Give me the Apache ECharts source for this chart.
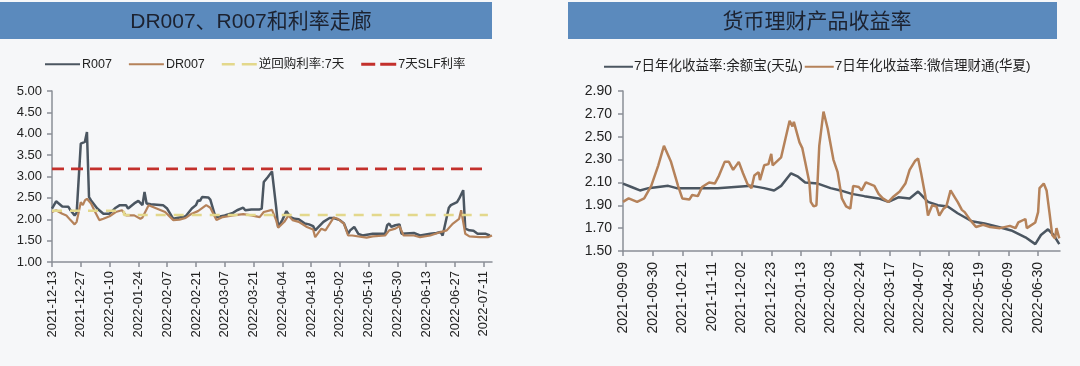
<!DOCTYPE html>
<html>
<head>
<meta charset="utf-8">
<script src="https://cdn.jsdelivr.net/npm/echarts@6/dist/echarts.min.js"></script>
<style>
html,body{margin:0;padding:0;background:#f6f7f9;}
#c{width:1080px;height:366px;}
</style>
</head>
<body>
<div id="c"></div>
<script>
// ---------- Left chart data ----------
const leftTitle = 'DR007、R007和利率走廊';
const leftStart = '2021-12-13';
const leftEnd = '2022-07-15';
const leftTicks = ['2021-12-13','2021-12-27','2022-01-10','2022-01-24','2022-02-07','2022-02-21','2022-03-07','2022-03-21','2022-04-04','2022-04-18','2022-05-02','2022-05-16','2022-05-30','2022-06-13','2022-06-27','2022-07-11'];

const r007Dates = ['2021-12-13','2021-12-15','2021-12-16','2021-12-18','2021-12-21','2021-12-22','2021-12-24','2021-12-25','2021-12-27','2021-12-29','2021-12-30','2021-12-31','2022-01-01','2022-01-04','2022-01-07','2022-01-10','2022-01-13','2022-01-15','2022-01-18','2022-01-19','2022-01-22','2022-01-24','2022-01-26','2022-01-27','2022-01-28','2022-01-30','2022-02-05','2022-02-07','2022-02-10','2022-02-13','2022-02-16','2022-02-19','2022-02-21','2022-02-22','2022-02-23','2022-02-24','2022-02-27','2022-02-28','2022-03-02','2022-03-03','2022-03-07','2022-03-11','2022-03-13','2022-03-16','2022-03-17','2022-03-20','2022-03-24','2022-03-25','2022-03-26','2022-03-28','2022-03-30','2022-04-01','2022-04-02','2022-04-04','2022-04-06','2022-04-08','2022-04-10','2022-04-12','2022-04-15','2022-04-17','2022-04-19','2022-04-20','2022-04-22','2022-04-24','2022-04-27','2022-04-29','2022-05-02','2022-05-04','2022-05-06','2022-05-07','2022-05-09','2022-05-11','2022-05-13','2022-05-18','2022-05-24','2022-05-25','2022-05-26','2022-05-27','2022-05-29','2022-05-31','2022-06-01','2022-06-07','2022-06-10','2022-06-15','2022-06-18','2022-06-20','2022-06-21','2022-06-24','2022-06-25','2022-06-28','2022-06-29','2022-07-01','2022-07-02','2022-07-04','2022-07-06','2022-07-08','2022-07-12','2022-07-14'];
const r007Values = [2.25,2.42,2.38,2.30,2.29,2.21,2.09,2.15,3.77,3.81,4.04,2.52,2.44,2.25,2.13,2.13,2.27,2.33,2.33,2.25,2.37,2.43,2.33,2.64,2.37,2.35,2.33,2.25,2.01,2.04,2.07,2.25,2.33,2.44,2.43,2.52,2.51,2.46,2.13,2.05,2.09,2.15,2.21,2.27,2.21,2.23,2.23,2.25,2.87,2.99,3.12,2.29,1.82,1.98,2.19,2.05,2.01,2.00,1.90,1.88,1.84,1.74,1.84,1.94,2.03,2.03,1.98,1.90,1.66,1.74,1.82,1.66,1.62,1.66,1.66,1.86,1.90,1.82,1.86,1.88,1.66,1.68,1.62,1.66,1.68,1.70,1.62,2.27,2.33,2.40,2.48,2.68,1.78,1.74,1.73,1.66,1.66,1.62];

const dr007Dates = ['2021-12-13','2021-12-15','2021-12-18','2021-12-20','2021-12-22','2021-12-24','2021-12-25','2021-12-27','2021-12-28','2021-12-29','2021-12-30','2022-01-01','2022-01-03','2022-01-05','2022-01-07','2022-01-10','2022-01-13','2022-01-16','2022-01-18','2022-01-22','2022-01-25','2022-01-26','2022-01-29','2022-02-01','2022-02-06','2022-02-10','2022-02-13','2022-02-16','2022-02-19','2022-02-22','2022-02-26','2022-02-28','2022-03-03','2022-03-06','2022-03-11','2022-03-16','2022-03-20','2022-03-24','2022-03-26','2022-03-30','2022-04-01','2022-04-02','2022-04-05','2022-04-07','2022-04-09','2022-04-12','2022-04-16','2022-04-19','2022-04-20','2022-04-23','2022-04-25','2022-04-29','2022-05-01','2022-05-04','2022-05-06','2022-05-08','2022-05-15','2022-05-18','2022-05-24','2022-05-26','2022-05-29','2022-05-31','2022-06-02','2022-06-07','2022-06-10','2022-06-15','2022-06-20','2022-06-23','2022-06-26','2022-06-29','2022-06-30','2022-07-02','2022-07-04','2022-07-09','2022-07-13','2022-07-15'];
const dr007Values = [2.17,2.21,2.13,2.09,1.98,1.88,1.94,2.40,2.33,2.44,2.48,2.37,2.17,1.98,2.01,2.07,2.17,2.21,2.09,2.09,2.01,2.04,2.33,2.27,2.17,1.98,1.99,2.03,2.13,2.19,2.33,2.27,1.98,2.05,2.09,2.12,2.09,2.05,2.17,2.22,1.98,1.80,1.94,2.09,1.98,1.94,1.82,1.76,1.58,1.78,1.74,2.04,2.01,1.90,1.62,1.62,1.57,1.60,1.62,1.74,1.78,1.84,1.62,1.62,1.58,1.62,1.70,1.74,1.90,2.01,2.21,1.66,1.60,1.58,1.58,1.62];

const repoDates = ['2021-12-13','2022-01-17','2022-07-13'];
const repoValues = [2.20,2.10,2.10];
const slfDates = ['2021-12-13','2022-07-13'];
const slfValues = [3.18,3.18];

// ---------- Right chart data ----------
const rightTitle = '货币理财产品收益率';
const rightStart = '2021-09-09';
const rightEnd = '2022-07-15';
const rightTicks = ['2021-09-09','2021-09-30','2021-10-21','2021-11-11','2021-12-02','2021-12-23','2022-01-13','2022-02-03','2022-02-24','2022-03-17','2022-04-07','2022-04-28','2022-05-19','2022-06-09','2022-06-30'];

const yebDates = ['2021-09-09','2021-09-15','2021-09-21','2021-09-27','2021-10-04','2021-10-11','2021-10-17','2021-10-27','2021-11-06','2021-11-15','2021-11-27','2021-12-09','2021-12-18','2021-12-25','2021-12-30','2022-01-06','2022-01-11','2022-01-16','2022-01-25','2022-02-03','2022-02-10','2022-02-18','2022-02-27','2022-03-09','2022-03-16','2022-03-23','2022-03-31','2022-04-06','2022-04-13','2022-04-20','2022-04-27','2022-05-04','2022-05-14','2022-05-23','2022-06-02','2022-06-11','2022-06-21','2022-06-28','2022-07-02','2022-07-07','2022-07-11','2022-07-15'];
const yebValues = [2.09,2.06,2.03,2.05,2.06,2.07,2.05,2.05,2.05,2.05,2.06,2.07,2.05,2.03,2.07,2.18,2.15,2.10,2.09,2.05,2.03,2.00,1.98,1.96,1.93,1.97,1.96,2.02,1.93,1.90,1.89,1.83,1.76,1.74,1.71,1.68,1.62,1.56,1.64,1.69,1.64,1.56];

const wxDates = ['2021-09-09','2021-09-13','2021-09-19','2021-09-24','2021-09-29','2021-10-04','2021-10-08','2021-10-13','2021-10-18','2021-10-21','2021-10-26','2021-10-28','2021-11-01','2021-11-04','2021-11-09','2021-11-13','2021-11-16','2021-11-20','2021-11-23','2021-11-26','2021-11-30','2021-12-03','2021-12-06','2021-12-09','2021-12-11','2021-12-14','2021-12-15','2021-12-18','2021-12-21','2021-12-23','2021-12-24','2021-12-30','2022-01-02','2022-01-05','2022-01-07','2022-01-08','2022-01-12','2022-01-14','2022-01-16','2022-01-19','2022-01-20','2022-01-22','2022-01-24','2022-01-26','2022-01-29','2022-02-01','2022-02-05','2022-02-08','2022-02-11','2022-02-14','2022-02-17','2022-02-19','2022-02-23','2022-02-25','2022-02-28','2022-03-06','2022-03-09','2022-03-12','2022-03-16','2022-03-19','2022-03-24','2022-03-28','2022-03-31','2022-04-04','2022-04-06','2022-04-08','2022-04-11','2022-04-13','2022-04-16','2022-04-19','2022-04-21','2022-04-24','2022-04-26','2022-04-29','2022-05-02','2022-05-04','2022-05-07','2022-05-09','2022-05-13','2022-05-17','2022-05-22','2022-05-27','2022-06-03','2022-06-10','2022-06-14','2022-06-16','2022-06-21','2022-06-22','2022-06-28','2022-06-30','2022-07-01','2022-07-04','2022-07-06','2022-07-08','2022-07-10','2022-07-12','2022-07-13','2022-07-15'];
const wxValues = [1.93,1.96,1.93,1.96,2.07,2.25,2.42,2.28,2.07,1.96,1.95,1.99,1.98,2.06,2.10,2.09,2.16,2.28,2.28,2.21,2.28,2.18,2.09,2.05,2.16,2.19,2.12,2.25,2.26,2.35,2.25,2.32,2.48,2.64,2.59,2.63,2.45,2.40,2.28,2.10,1.93,1.89,1.90,2.42,2.72,2.57,2.30,2.19,1.96,1.89,1.87,2.07,2.06,2.03,2.10,2.07,2.00,1.96,1.93,1.97,2.02,2.09,2.21,2.29,2.31,2.19,1.99,1.81,1.90,1.89,1.81,1.87,1.89,2.03,1.97,1.93,1.86,1.84,1.77,1.71,1.73,1.71,1.70,1.72,1.70,1.75,1.78,1.70,1.75,1.84,2.05,2.09,2.03,1.84,1.64,1.61,1.70,1.61];

// ---------- helpers ----------
const DAY = 86400000;
function dayOf(s, base) { return Math.round((Date.parse(s) - Date.parse(base)) / DAY); }
function pairs(dates, vals, base) { return dates.map((d, i) => [dayOf(d, base), vals[i]]); }
function tickFormatter(ticks, base) {
  const m = {};
  ticks.forEach(t => { m[dayOf(t, base)] = t; });
  return v => (m[Math.round(v)] !== undefined ? m[Math.round(v)] : '');
}

const DARK = '#4b5661';
const BROWN = '#b5825a';
const YELLOW = '#e3d88c';
const RED = '#c3302c';
const FONT = '"Liberation Sans","Noto Sans CJK SC",sans-serif';

// legend icon shapes (solid line / dashed line)
const ICON_SOLID = 'path://M0,0H35V2H0Z';
const ICON_DASH2 = 'path://M0,0H13V2.6H0Z M20,0H35V2.6H20Z';
const ICON_DASH_RED = 'path://M0,0H14V3H0Z M19,0H35V3H19Z';
const ICON_SOLID_R = 'path://M0,0H29V2H0Z';

const leftTickVals = leftTicks.map(t => dayOf(t, leftStart));
const rightTickVals = rightTicks.map(t => dayOf(t, rightStart));

const chart = echarts.init(document.getElementById('c'), null, {renderer: 'canvas'});
chart.setOption({
  backgroundColor: '#f6f7f9',
  animation: false,
  textStyle: {fontFamily: FONT},
  graphic: [
    {type: 'rect', shape: {x: 0, y: 2, width: 492, height: 37}, style: {fill: '#5b8abd'}, z: 0},
    {type: 'rect', shape: {x: 568, y: 2, width: 489, height: 37}, style: {fill: '#5b8abd'}, z: 0}
  ],
  title: [
    {text: leftTitle, left: 246, top: 7, textAlign: 'center', textStyle: {fontSize: 21, fontWeight: 'normal', color: '#1c2230', fontFamily: FONT}},
    {text: rightTitle, left: 812, top: 7, textAlign: 'center', textStyle: {fontSize: 21, fontWeight: 'normal', color: '#1c2230', fontFamily: FONT}}
  ],
  legend: [
    {
      left: 40, top: 53, itemWidth: 35, itemHeight: 14, itemGap: 17,
      textStyle: {fontSize: 12.5, color: '#222', fontFamily: FONT, padding: [0, 0, 0, -3]},
      data: [
        {name: 'R007', icon: ICON_SOLID},
        {name: 'DR007', icon: ICON_SOLID},
        {name: '逆回购利率:7天', icon: ICON_DASH2},
        {name: '7天SLF利率', icon: ICON_DASH_RED}
      ]
    },
    {
      left: 599, top: 55, itemWidth: 29, itemHeight: 14, itemGap: 2,
      textStyle: {fontSize: 13.5, color: '#222', fontFamily: FONT, padding: [0, 0, 0, -4]},
      data: [
        {name: '7日年化收益率:余额宝(天弘)', icon: ICON_SOLID_R},
        {name: '7日年化收益率:微信理财通(华夏)', icon: ICON_SOLID_R}
      ]
    }
  ],
  grid: [
    {left: 52, top: 91, width: 440, height: 171},
    {left: 623, top: 91, width: 437, height: 160}
  ],
  xAxis: [
    {
      gridIndex: 0, type: 'value', min: 0, max: dayOf(leftEnd, leftStart), interval: 14,
      splitLine: {show: false},
      axisLine: {lineStyle: {color: '#8a8f96', width: 1.5}},
      axisTick: {length: 5, lineStyle: {color: '#8a8f96', width: 1.5}, customValues: leftTickVals},
      axisLabel: {rotate: 90, margin: 9, fontSize: 13, color: '#222', customValues: leftTickVals, formatter: tickFormatter(leftTicks, leftStart)}
    },
    {
      gridIndex: 1, type: 'value', min: 0, max: dayOf(rightEnd, rightStart) + 0.5, interval: 21,
      splitLine: {show: false},
      axisLine: {lineStyle: {color: '#8a8f96', width: 1.5}},
      axisTick: {length: 5, lineStyle: {color: '#8a8f96', width: 1.5}, customValues: rightTickVals},
      axisLabel: {rotate: 90, margin: 11, fontSize: 14, color: '#222', customValues: rightTickVals, formatter: tickFormatter(rightTicks, rightStart)}
    }
  ],
  yAxis: [
    {
      gridIndex: 0, type: 'value', min: 1, max: 5, interval: 0.5,
      splitLine: {show: false},
      axisLine: {show: true, lineStyle: {color: '#8a8f96', width: 1.5}},
      axisTick: {show: true, length: 5, lineStyle: {color: '#8a8f96', width: 1.5}},
      axisLabel: {fontSize: 13, color: '#222', margin: 10, formatter: v => v.toFixed(2)}
    },
    {
      gridIndex: 1, type: 'value', min: 1.5, max: 2.9, interval: 0.2,
      splitLine: {show: false},
      axisLine: {show: true, lineStyle: {color: '#8a8f96', width: 1.5}},
      axisTick: {show: true, length: 5, lineStyle: {color: '#8a8f96', width: 1.5}},
      axisLabel: {fontSize: 14, color: '#222', margin: 11, formatter: v => v.toFixed(2)}
    }
  ],
  series: [
    {name: 'R007', type: 'line', xAxisIndex: 0, yAxisIndex: 0, symbol: 'none', color: DARK,
     lineStyle: {width: 2.5, color: DARK}, data: pairs(r007Dates, r007Values, leftStart)},
    {name: 'DR007', type: 'line', xAxisIndex: 0, yAxisIndex: 0, symbol: 'none', color: BROWN,
     lineStyle: {width: 2.2, color: BROWN}, data: pairs(dr007Dates, dr007Values, leftStart)},
    {name: '逆回购利率:7天', type: 'line', xAxisIndex: 0, yAxisIndex: 0, symbol: 'none', step: 'end', color: YELLOW,
     lineStyle: {width: 2.5, color: YELLOW, type: [10, 8]}, data: pairs(repoDates, repoValues, leftStart)},
    {name: '7天SLF利率', type: 'line', xAxisIndex: 0, yAxisIndex: 0, symbol: 'none', color: RED,
     lineStyle: {width: 2.8, color: RED, type: [12, 7]}, data: pairs(slfDates, slfValues, leftStart)},
    {name: '7日年化收益率:余额宝(天弘)', type: 'line', xAxisIndex: 1, yAxisIndex: 1, symbol: 'none', color: DARK,
     lineStyle: {width: 2.5, color: DARK}, data: pairs(yebDates, yebValues, rightStart)},
    {name: '7日年化收益率:微信理财通(华夏)', type: 'line', xAxisIndex: 1, yAxisIndex: 1, symbol: 'none', color: BROWN,
     lineStyle: {width: 2.5, color: BROWN}, data: pairs(wxDates, wxValues, rightStart)}
  ]
});
</script>
</body>
</html>
